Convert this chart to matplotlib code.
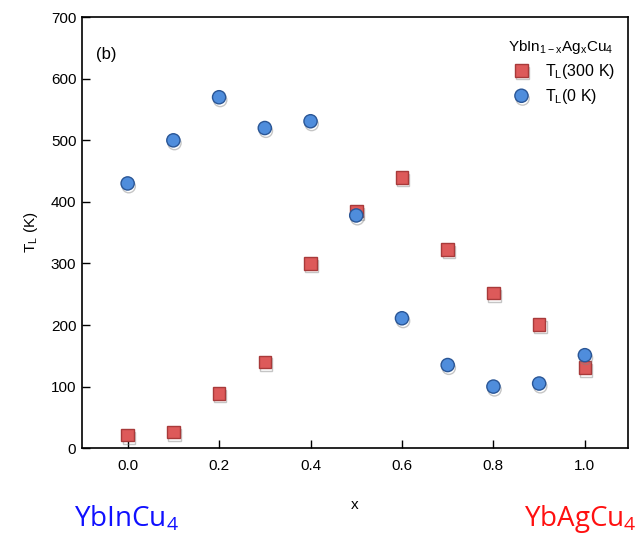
import matplotlib
matplotlib.use("Agg")
import matplotlib.pyplot as plt
import matplotlib.patheffects as pe

x = [0.0, 0.1, 0.2, 0.3, 0.4, 0.5, 0.6, 0.7, 0.8, 0.9, 1.0]
tl_300 = [21, 26, 89, 140, 300, 385, 440, 323, 252, 201, 131]
tl_0 = [430, 500, 570, 520, 531, 378, 211, 135, 100, 105, 151]
xticks = [0.0, 0.2, 0.4, 0.6, 0.8, 1.0]
yticks = [0, 100, 200, 300, 400, 500, 600, 700]

plt.rcParams['font.family'] = ['Liberation Sans', 'DejaVu Sans']

fig = plt.figure(figsize=(6.4, 5.38), dpi=100)
ax = fig.add_axes([0.128, 0.167, 0.853, 0.801])

shadow = [pe.SimpleLineShadow(offset=(0.8, -2), shadow_color='gray', alpha=0.45), pe.Normal()]

ax.plot(x, tl_300, linestyle='none', marker='s', markersize=9,
        markerfacecolor='#dd5a5a', markeredgecolor='#a83a3a', markeredgewidth=1,
        label='T$_\\mathregular{L}$(300 K)', path_effects=shadow, zorder=3)
ax.plot(x, tl_0, linestyle='none', marker='o', markersize=9.5,
        markerfacecolor='#4f8ddc', markeredgecolor='#2a5696', markeredgewidth=1,
        label='T$_\\mathregular{L}$(0 K)', path_effects=shadow, zorder=4)

ax.set_xlim(-0.1, 1.094)
ax.set_ylim(0, 700)
ax.set_xticks(xticks)
ax.set_xticklabels([f"{v:.1f}" for v in xticks])
ax.set_yticks(yticks)
ax.tick_params(direction='in', length=6, width=1, labelsize=11, pad=8)
ax.tick_params(axis='y', pad=4)
for s in ax.spines.values():
    s.set_linewidth(1.2)

ax.set_ylabel('T$_\\mathregular{L}$ (K)', fontsize=11, labelpad=8)
ax.set_xlabel('x', fontsize=11, labelpad=18)

ax.text(-0.07, 640, '(b)', fontsize=12, va='center', ha='left')

leg = ax.legend(loc='upper right', bbox_to_anchor=(0.995, 0.975), frameon=False,
                fontsize=11.5, title='YbIn$_\\mathregular{1-x}$Ag$_\\mathregular{x}$Cu$_\\mathregular{4}$',
                title_fontsize=11, handletextpad=0.5, labelspacing=0.4, borderaxespad=0.2)

fig.text(0.115, 0.022, 'YbInCu$_\\mathregular{4}$', color='#1010ff', fontsize=20,
         family='Open Sans', ha='left', va='baseline')
fig.text(0.994, 0.022, 'YbAgCu$_\\mathregular{4}$', color='#ff1010', fontsize=20,
         family='Open Sans', ha='right', va='baseline')

fig.savefig('out.png', dpi=100)
